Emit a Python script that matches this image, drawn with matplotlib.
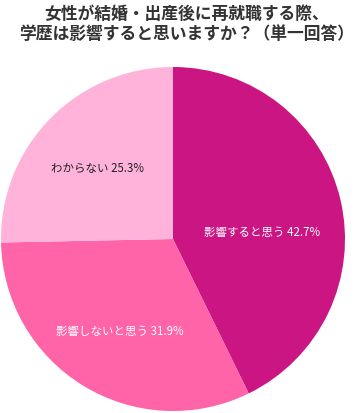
import matplotlib
matplotlib.use("Agg")
import matplotlib.pyplot as plt

plt.rcParams['font.family'] = ['Noto Sans CJK JP', 'DejaVu Sans']

title = "女性が結婚・出産後に再就職する際、\n学歴は影響すると思いますか？（単一回答）"
categories = ["影響すると思う", "影響しないと思う", "わからない"]
values = [42.7, 31.9, 25.3]
colors = ["#CB1583", "#FF63A8", "#FFB3DA"]
label_colors = ["white", "white", "#222222"]
label_pos = [(0.517, 0.035), (-0.308, -0.54), (-0.439, 0.407)]

W, H = 359, 413
fig = plt.figure(figsize=(W / 100, H / 100), dpi=100)
fig.patch.set_facecolor("white")

cx, cy, r = 173, 239, 172
ax = fig.add_axes([(cx - r) / W, (H - cy - r) / H, 2 * r / W, 2 * r / H])
ax.pie(values, colors=colors, startangle=90, counterclock=False, radius=1,
       wedgeprops=dict(linewidth=0))
ax.set_xlim(-1, 1)
ax.set_ylim(-1, 1)
ax.set_aspect("equal")
ax.axis("off")

for cat, v, col, (x, y) in zip(categories, values, label_colors, label_pos):
    ax.text(x, y, f"{cat} {v}%", color=col, fontsize=8.25, ha="center", va="center")

fig.text(187 / W, 1 - 24 / H, title, ha="center", va="center", fontsize=12.1,
         fontweight="bold", color="#333333", linespacing=1.15)

fig.savefig("out.png", dpi=100)
